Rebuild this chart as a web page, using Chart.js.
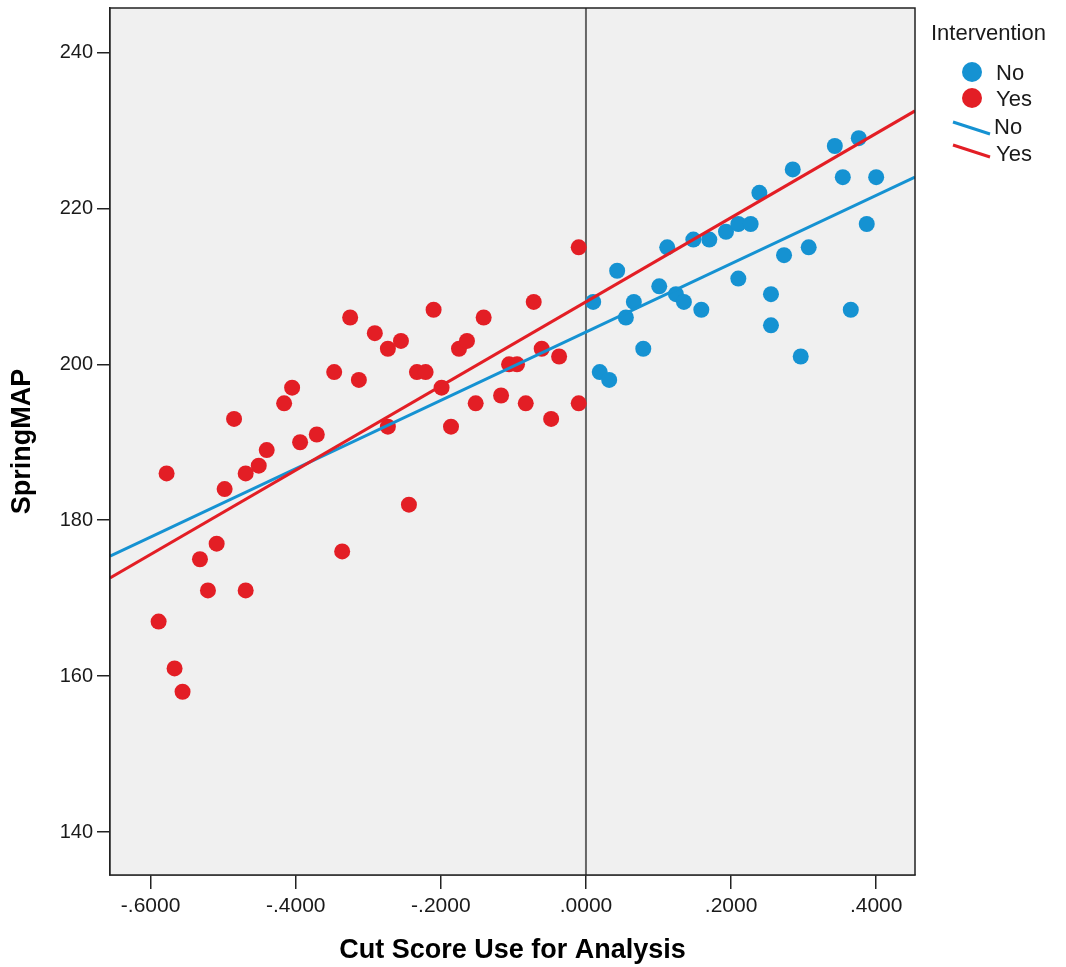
<!DOCTYPE html>
<html>
<head>
<meta charset="utf-8">
<title>SpringMAP by Cut Score</title>
<script src="https://cdn.jsdelivr.net/npm/chart.js@4.4.1/dist/chart.umd.min.js"></script>
<style>
  body { margin: 0; background: #fff; }
  #wrap { width: 1066px; height: 967px; }
</style>
</head>
<body>
<div id="wrap"><canvas id="myChart" width="1066" height="967"></canvas></div>
<script>
// axis range and ticks
var xMin = -0.656, xMax = 0.4535;
var yMin = 134.5, yMax = 245.7;
var xTicks = [-0.6, -0.4, -0.2, 0, 0.2, 0.4];
var yTicks = [140, 160, 180, 200, 220, 240];

// Intervention = No
var noX = [0.010, 0.019, 0.032, 0.043, 0.055, 0.066, 0.079, 0.101, 0.112, 0.124, 0.135, 0.148, 0.159, 0.170, 0.193, 0.210,
           0.210, 0.227, 0.239, 0.255, 0.255, 0.273, 0.285, 0.296, 0.307, 0.343, 0.354, 0.365, 0.376, 0.387, 0.400];
var noY = [208, 199, 198, 212, 206, 208, 202, 210, 215, 209, 208, 216, 207, 216, 217, 218,
           211, 218, 222, 209, 205, 214, 225, 201, 215, 228, 224, 207, 229, 218, 224];

// Intervention = Yes
var yesX = [-0.589, -0.578, -0.567, -0.556, -0.532, -0.521, -0.509, -0.498, -0.485, -0.469, -0.469, -0.451, -0.440, -0.416, -0.405,
            -0.394, -0.371, -0.347, -0.336, -0.325, -0.313, -0.291, -0.273, -0.273, -0.255, -0.244, -0.233, -0.221, -0.210, -0.199,
            -0.186, -0.175, -0.164, -0.152, -0.141, -0.117, -0.106, -0.095, -0.083, -0.072, -0.061, -0.048, -0.037, -0.010, -0.010];
var yesY = [167, 186, 161, 158, 175, 171, 177, 184, 193, 171, 186, 187, 189, 195, 197,
            190, 191, 199, 176, 206, 198, 204, 202, 192, 203, 182, 199, 199, 207, 197,
            192, 202, 203, 195, 206, 196, 200, 200, 195, 208, 202, 193, 201, 215, 195];

// fit lines (ends at the axis limits)
var fitX = [xMin, xMax];
var fitNoY = [175.4, 224.0];
var fitYesY = [172.6, 232.5];

var blue = '#1592d2';
var red = '#e31e25';
var txt = '#1a1a1a';
var fam = '"Liberation Sans", Arial, sans-serif';

function pts(xs, ys) {
    return xs.map(function (v, i) { return {x: v, y: ys[i]}; });
}
function fmtX(v) {
    var s = Math.abs(v).toFixed(4).replace(/^0/, '');
    return (v < -1e-9 ? '-' : '') + s;
}

// grey plot area, frame and the x=0 reference line
var plotBox = {
    id: 'plotBox',
    beforeDatasetsDraw: function (chart) {
        var a = chart.chartArea, ctx = chart.ctx;
        ctx.save();
        ctx.fillStyle = '#f0f0f0';
        ctx.fillRect(a.left, a.top, a.right - a.left, a.bottom - a.top);
        var x0 = chart.scales.x.getPixelForValue(0);
        ctx.strokeStyle = '#666';
        ctx.lineWidth = 2;
        ctx.beginPath();
        ctx.moveTo(x0, a.top);
        ctx.lineTo(x0, a.bottom);
        ctx.stroke();
        ctx.restore();
    },
    afterDraw: function (chart) {
        var a = chart.chartArea, ctx = chart.ctx;
        ctx.save();
        ctx.strokeStyle = '#222';
        ctx.lineWidth = 1.5;
        ctx.strokeRect(a.left, a.top, a.right - a.left, a.bottom - a.top);
        ctx.restore();
    }
};

// SPSS style legend at the right
var sideLegend = {
    id: 'sideLegend',
    afterDraw: function (chart) {
        var ctx = chart.ctx;
        ctx.save();
        ctx.fillStyle = txt;
        ctx.textBaseline = 'middle';
        ctx.textAlign = 'left';
        ctx.font = '22px ' + fam;
        ctx.fillText('Intervention', 931, 34);

        ctx.fillStyle = blue;
        ctx.beginPath(); ctx.arc(972, 72, 10, 0, Math.PI * 2); ctx.fill();
        ctx.fillStyle = red;
        ctx.beginPath(); ctx.arc(972, 98, 10, 0, Math.PI * 2); ctx.fill();

        ctx.lineWidth = 3;
        ctx.strokeStyle = blue;
        ctx.beginPath(); ctx.moveTo(953, 122); ctx.lineTo(990, 134); ctx.stroke();
        ctx.strokeStyle = red;
        ctx.beginPath(); ctx.moveTo(953, 145); ctx.lineTo(990, 157); ctx.stroke();

        ctx.fillStyle = txt;
        ctx.fillText('No', 996, 74);
        ctx.fillText('Yes', 996, 100);
        ctx.fillText('No', 994, 128);
        ctx.fillText('Yes', 996, 155);
        ctx.restore();
    }
};

var ctx = document.getElementById('myChart').getContext('2d');
var chart = new Chart(ctx, {
    type: 'scatter',
    data: {
        datasets: [
            {
                label: 'Yes fit',
                type: 'line',
                data: pts(fitX, fitYesY),
                borderColor: red,
                borderWidth: 3,
                pointRadius: 0,
                order: 0
            },
            {
                label: 'No fit',
                type: 'line',
                data: pts(fitX, fitNoY),
                borderColor: blue,
                borderWidth: 3,
                pointRadius: 0,
                order: 1
            },
            {
                label: 'No',
                data: pts(noX, noY),
                backgroundColor: blue,
                borderWidth: 0,
                pointRadius: 8,
                order: 2
            },
            {
                label: 'Yes',
                data: pts(yesX, yesY),
                backgroundColor: red,
                borderWidth: 0,
                pointRadius: 8,
                order: 3
            }
        ]
    },
    options: {
        responsive: false,
        animation: false,
        devicePixelRatio: 1,
        layout: { padding: { left: 0, top: 5, right: 151, bottom: 0 } },
        plugins: {
            legend: { display: false },
            tooltip: { enabled: false }
        },
        scales: {
            x: {
                type: 'linear',
                min: xMin,
                max: xMax,
                afterBuildTicks: function (scale) {
                    scale.ticks = xTicks.map(function (v) { return {value: v}; });
                },
                afterFit: function (scale) {
                    scale.height = 92;
                    scale.paddingLeft = 0;
                    scale.paddingRight = 0;
                },
                grid: { drawOnChartArea: false, drawTicks: true, tickLength: 14, color: '#222', lineWidth: 1.5 },
                border: { display: true, color: '#222', width: 1.5 },
                ticks: {
                    padding: 5,
                    color: txt,
                    font: { family: fam, size: 21 },
                    maxRotation: 0,
                    callback: function (v) { return fmtX(v); }
                },
                title: {
                    display: true,
                    text: 'Cut Score Use for Analysis',
                    color: '#000',
                    font: { family: fam, size: 27, weight: 'bold' },
                    padding: { top: 0, bottom: 0 }
                }
            },
            y: {
                type: 'linear',
                min: yMin,
                max: yMax,
                afterBuildTicks: function (scale) {
                    scale.ticks = yTicks.map(function (v) { return {value: v}; });
                },
                afterFit: function (scale) {
                    scale.width = 110;
                    scale.paddingTop = 0;
                    scale.paddingBottom = 0;
                },
                grid: { drawOnChartArea: false, drawTicks: true, tickLength: 13, color: '#222', lineWidth: 1.5 },
                border: { display: true, color: '#222', width: 1.5 },
                ticks: {
                    padding: 4,
                    color: txt,
                    font: { family: fam, size: 20 }
                },
                title: {
                    display: true,
                    text: 'SpringMAP',
                    color: '#000',
                    font: { family: fam, size: 27, weight: 'bold' },
                    padding: { top: 6, bottom: 0 }
                }
            }
        }
    },
    plugins: [plotBox, sideLegend]
});
</script>
</body>
</html>
